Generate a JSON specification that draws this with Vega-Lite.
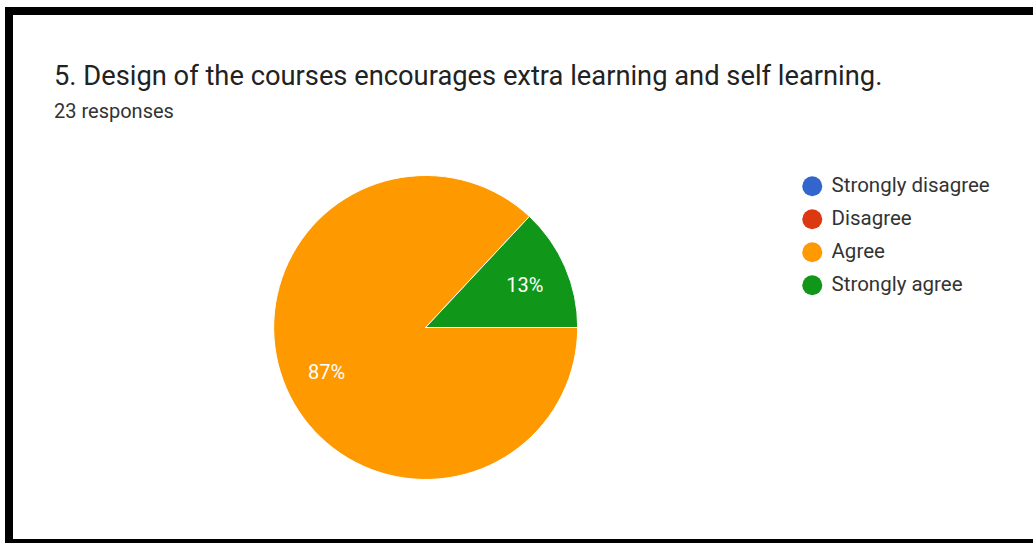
{
  "$schema": "https://vega.github.io/schema/vega-lite/v6.json",
  "width": 1024,
  "height": 532,
  "autosize": {"type": "none"},
  "padding": {"left": 9, "top": 11, "right": 0, "bottom": 0},
  "background": "white",
  "view": {"stroke": "black", "strokeWidth": 8, "strokeDash": [1024, 532, 1600], "fill": "white"},
  "config": {
    "font": "Roboto",
    "view": {"stroke": "black", "strokeWidth": 8, "fill": "white", "strokeDash": [1024, 532, 1600]},
    "style": {"cell": {"stroke": "black", "strokeWidth": 8, "fill": "white", "strokeDash": [1024, 532, 1600]}}
  },
  "title": {
    "text": "5. Design of the courses encourages extra learning and self learning.",
    "subtitle": "23 responses",
    "anchor": "start",
    "frame": "group",
    "orient": "top",
    "offset": -111,
    "dx": 45,
    "font": "Roboto",
    "fontSize": 27.3,
    "fontWeight": "normal",
    "color": "#222222",
    "subtitleFont": "Roboto",
    "subtitleFontSize": 20,
    "subtitleColor": "#333333",
    "subtitlePadding": 12
  },
  "data": {
    "values": [
      {"answer": "Strongly disagree", "count": 0, "rank": 1, "label": "0%"},
      {"answer": "Disagree", "count": 0, "rank": 2, "label": "0%"},
      {"answer": "Agree", "count": 20, "rank": 3, "label": "87%"},
      {"answer": "Strongly agree", "count": 3, "rank": 4, "label": "13%"}
    ]
  },
  "encoding": {
    "theta": {"field": "count", "type": "quantitative", "stack": true, "scale": {"range": [1.5708, 7.854]}},
    "order": {"field": "rank", "type": "quantitative"},
    "color": {
      "field": "answer",
      "type": "nominal",
      "scale": {
        "domain": ["Strongly disagree", "Disagree", "Agree", "Strongly agree"],
        "range": ["#3366cc", "#dc3912", "#ff9900", "#109618"]
      },
      "legend": {
        "orient": "none",
        "legendX": 793,
        "legendY": 165,
        "title": null,
        "symbolType": "circle",
        "symbolSize": 400,
        "symbolStrokeWidth": 0,
        "labelFontSize": 20.5,
        "labelFont": "Roboto",
        "labelColor": "#333333",
        "labelOffset": 9,
        "rowPadding": 12,
        "padding": 0
      }
    }
  },
  "layer": [
    {
      "mark": {"type": "arc", "outerRadius": 152, "stroke": "white", "strokeWidth": 1, "x": {"expr": "width*0.4069"}, "y": {"expr": "height*0.5949"}}
    },
    {
      "transform": [{"filter": "datum.count > 0"}],
      "mark": {"type": "text", "radius": 108, "dy": 2, "fill": "white", "fontSize": 20, "font": "Roboto", "x": {"expr": "width*0.4069"}, "y": {"expr": "height*0.5949"}},
      "encoding": {"text": {"field": "label", "type": "nominal"}, "color": {"value": "white"}}
    }
  ]
}
